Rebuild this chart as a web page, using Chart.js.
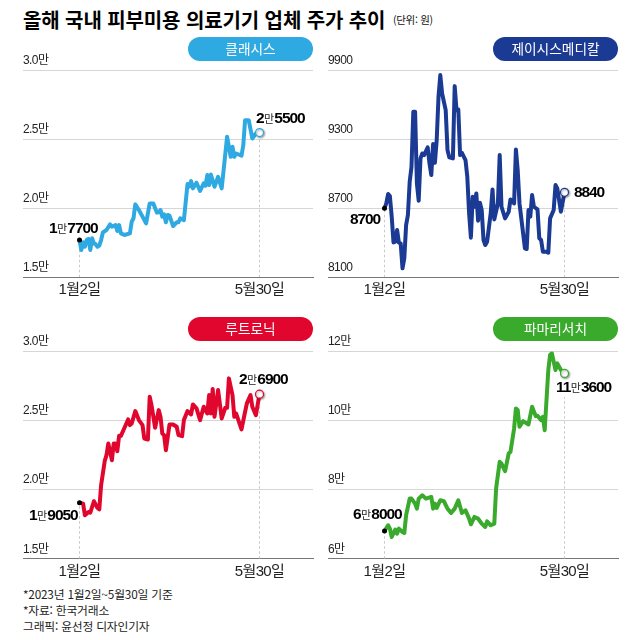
<!DOCTYPE html>
<html lang="ko">
<head>
<meta charset="utf-8">
<script src="https://cdn.jsdelivr.net/npm/chart.js@4"></script>
<style>
html,body{margin:0;padding:0;background:#fff;}
#page{position:relative;width:640px;height:640px;overflow:hidden;background:#fff;
 font-family:"Liberation Sans","Noto Sans CJK KR",sans-serif;color:#111;}
canvas.c{position:absolute;}
#title{position:absolute;left:23px;top:5px;font:700 20px/30px "Noto Sans CJK KR",sans-serif;white-space:nowrap;letter-spacing:-.1px;color:#000;}
#unit{position:absolute;left:393px;top:10px;font:400 10.5px/20px "Noto Sans CJK KR",sans-serif;white-space:nowrap;letter-spacing:-.3px;}
.pill{position:absolute;width:125px;height:24px;border-radius:12px;color:#fff;text-align:center;
 font:400 13.7px/23px "Noto Sans CJK KR",sans-serif;}
.note{position:absolute;white-space:nowrap;transform:translateY(-50%);font:700 15.5px/18px "Liberation Sans",sans-serif;letter-spacing:-1.1px;color:#000;}
.note small{font:400 11px/18px "Noto Sans CJK KR",sans-serif;letter-spacing:-.3px;color:#222;margin:0 .5px;}
#foot{position:absolute;left:23px;top:586px;font:400 11.8px/16px "Noto Sans CJK KR",sans-serif;letter-spacing:-.2px;color:#222;white-space:nowrap;}
</style>
</head>
<body>
<div id="page">
 <div id="title">올해 국내 피부미용 의료기기 업체 주가 추이</div>
 <div id="unit">(단위: 원)</div>
 <div id="foot">*2023년 1월2일~5월30일 기준<br>*자료: 한국거래소<br>그래픽: 윤선정 디자인기자</div>
</div>
<script>
const xTickLabels = ['1월2일', '5월30일'];

const classysDays = [0,1,2,3,4,5,6,7,8,9,10,11,12,13,15,17,18,20,21,22,23,25,28,29,30,31,33,35,37,39,41,43,44,45,46,47,48,49,50,52,54,55,56,58,60,61,62,63,65,67,69,70,71,72,73,75,77,79,82,84,85,86,87,90,91,92,94,96,98,100];
const classysValues = [17700,16980,17540,17220,17700,17780,16980,17830,17460,17390,17220,17300,17700,18260,18430,18840,18670,18790,18360,18790,18190,18070,18190,19030,19280,20290,19880,19400,18910,20360,20360,19690,19710,19880,19400,19570,18990,19520,19470,18720,18990,18990,19280,19150,21760,21570,21980,21450,21860,21260,21810,21640,22420,21690,22460,21570,22290,21450,25190,23740,24470,23740,23980,23820,24590,26400,26400,25070,25430,25500];
const classysTicks = ['1.5만','2.0만','2.5만','3.0만'];

const jeisysDays = [0,1,2,3,4,5,6,7,8,9,10,11,12,13,14,15,16,17,18,19,20,21,22,24,25,26,27,28,29,30,31,32,34,35,36,38,39,40,41,42,43,45,46,47,48,49,50,51,52,53,54,55,56,57,59,60,61,63,64,65,67,69,70,72,73,74,75,77,78,79,80,81,82,83,85,86,87,88,90,91,92,94,95,96,98,100];
const jeisysValues = [8700,8743,8825,8807,8628,8404,8410,8512,8401,8396,8178,8265,8555,8642,8932,9062,9541,9541,8917,8767,9135,9178,9164,9231,9091,8990,9260,9097,9294,9671,9860,9700,9555,9207,9144,9135,9764,9555,9561,9164,9184,9120,8975,8657,8445,8801,8714,8830,8593,8749,8686,8425,8381,8410,8657,8865,8604,8743,9164,8714,8613,8671,8778,8743,9213,9033,8743,8483,8352,8346,8686,8628,8816,8714,8691,8439,8425,8323,8323,8314,8613,8686,8903,8874,8671,8840];
const jeisysTicks = ['8100','8700','9300','9900'];

const lutronicDays = [0,2,3,5,6,8,10,11,12,14,15,16,18,19,20,21,22,23,25,27,28,29,31,33,35,36,38,39,40,42,44,45,46,47,48,50,52,54,55,57,58,60,62,63,65,67,69,71,72,73,74,75,77,79,81,82,83,85,86,87,90,92,93,95,96,98,100];
const lutronicValues = [19050,18986,18140,18380,18330,19155,18670,18575,20314,22053,22487,23333,22125,23333,23333,22777,23888,23888,24468,25072,24661,24782,25675,25023,24661,23695,23622,26714,26110,24468,25748,25265,24057,23936,22850,24709,24709,24540,23936,23864,25023,25675,25434,26158,25868,25023,25989,25506,26834,25506,27269,25265,27197,25144,25917,25917,28042,26834,25265,25506,24347,25627,26231,26834,25989,25386,26900];
const lutronicTicks = ['1.5만','2.0만','2.5만','3.0만'];

const pharmaDays = [0,2,3,4,6,7,8,10,11,12,14,15,17,18,19,21,23,26,27,28,29,31,33,35,37,39,41,43,45,47,48,50,52,54,56,57,59,61,62,64,65,67,69,70,72,73,74,75,77,80,82,84,85,87,88,89,91,92,93,95,96,98,100];
const pharmaValues = [68000,69660,68700,66280,68410,67250,68700,67730,67440,72560,77390,77390,75940,74490,77390,78360,77390,77870,74490,75940,74690,76910,76620,74490,73240,74490,76910,73240,74010,71600,69950,72080,71600,70150,69180,70820,69660,70150,80290,88020,87530,85310,90430,90920,97680,103470,103000,98160,99800,98840,103960,101250,101350,100090,101060,97190,114580,118930,119410,114580,116510,114580,113600];
const pharmaTicks = ['6만','8만','10만','12만'];

const spacing = {
  tight: '-0.6px'
};
const panels = [
 {name:'클래시스', color:'#2FA9E1', days:classysDays, values:classysValues, ticks:classysTicks, min:15000, max:30000, step:5000, guideTop:25500, left:0, top:48, pad:22.5, axisH:32.7,
  notes:[['1','만','7700',49,228],['2','만','5500',256,118]]},
 {name:'제이시스메디칼', color:'#1B3A93', days:jeisysDays, values:jeisysValues, ticks:jeisysTicks, min:8100, max:9900, step:600, guideTop:8840, left:305, top:48, pad:22.5, axisH:32.7,
  notes:[['','','8700',350,219],['','','8840',574,192]]},
 {name:'루트로닉', color:'#E0062E', days:lutronicDays, values:lutronicValues, ticks:lutronicTicks, min:15000, max:30000, step:5000, guideTop:26900, left:0, top:328, pad:23.3, axisH:31.3,
  notes:[['1','만','9050',29,515],['2','만','6900',239,379]]},
 {name:'파마리서치', color:'#3AAA2C', days:pharmaDays, values:pharmaValues, ticks:pharmaTicks, min:60000, max:120000, step:20000, guideTop:106800, left:305, top:328, pad:23.3, axisH:31.3,
  notes:[['6','만','8000',353,514],['11','만','3600',556,387]]}
];

const FONT = '"Liberation Sans","Noto Sans CJK KR",sans-serif';
const tightText = {
  id:'tightText',
  beforeDraw(chart){ chart.ctx.letterSpacing = spacing.tight; }
};
const markerShadow = {
  id:'markerShadow',
  beforeDatasetDraw(chart,args){
    if(args.index===3){chart.ctx.shadowColor='rgba(0,0,0,.35)';chart.ctx.shadowBlur=2;chart.ctx.shadowOffsetX=1;chart.ctx.shadowOffsetY=1;}
  },
  afterDatasetDraw(chart,args){
    if(args.index===3){chart.ctx.shadowColor='transparent';chart.ctx.shadowBlur=0;chart.ctx.shadowOffsetX=0;chart.ctx.shadowOffsetY=0;}
  }
};

const page = document.getElementById('page');
panels.forEach(p=>{
  const cv = document.createElement('canvas');
  cv.className='c';
  cv.style.cssText=`left:${p.left}px;top:${p.top}px;width:335px;height:262px;`;
  cv.width=335;cv.height=262;
  page.appendChild(cv);

  const areaLeft = 23, areaW = 290;
  const perSession = 1.8;
  const xMin = -(79.5-23)/perSession;
  const xMax = xMin + areaW/perSession;
  const series = p.days.map((d,i)=>({x:d,y:p.values[i]}));
  const first = series[0], last = series[series.length-1];

  new Chart(cv,{
    type:'line',
    data:{datasets:[
      {data:[{x:0,y:p.min},{x:0,y:first.y}],borderColor:'#c8c8c8',borderWidth:1,borderDash:[2.5,2.5],pointRadius:0,order:4},
      {data:[{x:100,y:p.min},{x:100,y:p.guideTop}],borderColor:'#c8c8c8',borderWidth:1,borderDash:[2.5,2.5],pointRadius:0,order:4},
      {data:series,borderColor:p.color,borderWidth:4,borderJoinStyle:'round',borderCapStyle:'round',pointRadius:0,tension:0,order:3},
      {data:[last],showLine:false,pointRadius:4,pointBackgroundColor:'#fff',pointBorderColor:p.color,pointBorderWidth:1.2,order:1,clip:false},
      {data:[first],showLine:false,pointRadius:2.5,pointBackgroundColor:'#000',pointBorderColor:'#000',pointBorderWidth:0,order:2,clip:false}
    ]},
    plugins:[tightText,markerShadow],
    options:{
      responsive:false,animation:false,devicePixelRatio:1,
      layout:{padding:{left:areaLeft,right:335-areaLeft-areaW,top:p.pad,bottom:0}},
      plugins:{legend:{display:false},tooltip:{enabled:false}},
      scales:{
        x:{type:'linear',min:xMin,max:xMax,
          afterBuildTicks(s){s.ticks=[{value:0},{value:100}];},
          afterFit(s){s.height=p.axisH;},
          grid:{display:false,drawTicks:false},
          border:{display:true,color:'#777',width:1},
          ticks:{autoSkip:false,maxRotation:0,padding:4,color:'#222',
            font:{family:FONT,size:15},
            callback:(v)=>v===0?xTickLabels[0]:xTickLabels[1]}},
        y:{type:'linear',min:p.min,max:p.max,
          afterFit(s){s.width=0;},
          grid:{color:'#d6d6d6',lineWidth:1,drawTicks:false},
          border:{display:false},
          ticks:{mirror:true,padding:0,labelOffset:-9.5,stepSize:p.step,color:'#222',
            font:{family:FONT,size:12},
            callback:(v,i)=>p.ticks[i]}}
      }
    }
  });

  const pill=document.createElement('div');
  pill.className='pill';
  pill.textContent=p.name;
  pill.style.background=p.color;
  pill.style.left=(p.left===0?188:493)+'px';
  pill.style.top=(p.top===48?37:317)+'px';
  page.appendChild(pill);

  p.notes.forEach(n=>{
    const d=document.createElement('div');
    d.className='note';
    d.style.left=n[3]+'px';d.style.top=n[4]+'px';
    d.append(n[0]);
    if(n[1]){const s=document.createElement('small');s.textContent=n[1];d.append(s);}
    d.append(n[2]);
    page.appendChild(d);
  });
});
</script>
</body>
</html>
